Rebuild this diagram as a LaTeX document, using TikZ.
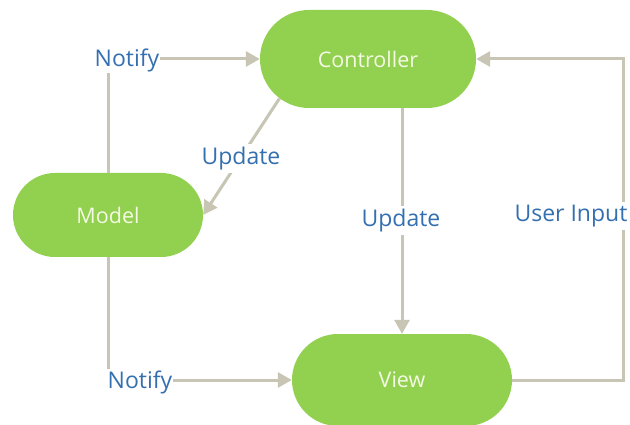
\documentclass[tikz,border=0pt]{standalone}
\usepackage{fontspec}
\setmainfont{Open Sans}
\usetikzlibrary{shapes.misc,arrows.meta}
\definecolor{pillgreen}{RGB}{146,208,80}
\definecolor{pilltext}{RGB}{244,250,228}
\definecolor{wire}{RGB}{200,197,180}
\definecolor{labelblue}{RGB}{52,112,176}
\tikzset{
  pill/.style={rounded rectangle, fill=pillgreen, draw=none, text=pilltext,
    font=\fontsize{21.5}{24}\selectfont, inner sep=0pt},
  lbl/.style={text=labelblue, font=\fontsize{23}{26}\selectfont, inner sep=1pt},
  gap/.style={lbl, fill=white, inner sep=3pt},
  wireline/.style={draw=wire, line width=3pt},
  arr/.style={wireline, -{Triangle[length=14pt,width=15pt]}}
}
\begin{document}
\begin{tikzpicture}[x=1pt,y=-1pt]
  \useasboundingbox (0,0) rectangle (630,425);
  \fill[white] (0,0) rectangle (630,425);

  % the three components
  \node[pill, minimum width=216pt, minimum height=98pt] (ctrl) at (368,59) {Controller};
  \node[pill, minimum width=190pt, minimum height=84pt] (model) at (108,215) {Model};
  \node[pill, minimum width=220pt, minimum height=92pt] (view) at (402,380) {View};

  % model notifies controller
  \node[lbl] (ntop) at (127,60) {Notify};
  \draw[wireline] (model.north) -- (model.north |- ntop.south);
  \draw[arr] (ntop.east |- ctrl.west) -- (ctrl.west);

  % model notifies view
  \node[lbl] (nbot) at (140,382) {Notify};
  \draw[wireline] (model.south) -- (model.south |- nbot.north);
  \draw[arr] (nbot.east |- view.west) -- (view.west);

  % controller updates model
  \draw[arr] (ctrl.204) -- (model.east);
  \node[gap] (umodel) at (241,159) {Update};

  % controller updates view
  \coordinate (cbot) at (view.north |- ctrl.south);
  \draw[arr] (cbot) -- (view.north);
  \node[gap] (uview) at (401,221) {Update};

  % user input loops back from view to controller
  \coordinate (corner) at (623,380);
  \draw[arr] (view.east) -- (corner) |- (ctrl.east);
  \node[gap] (uin) at (571,216) {User Input};
\end{tikzpicture}
\end{document}
